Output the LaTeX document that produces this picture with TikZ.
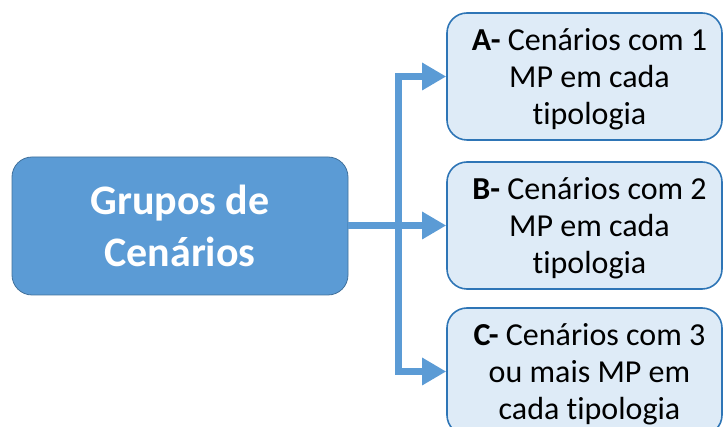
\documentclass[tikz,border=0pt]{standalone}
\usepackage{fontspec}
\setmainfont{Carlito}[Ligatures=NoCommon]
\usetikzlibrary{arrows.meta}
\definecolor{mainfill}{HTML}{5B9BD5}
\definecolor{mainborder}{HTML}{41719C}
\definecolor{subfill}{HTML}{DEEBF7}
\definecolor{subborder}{HTML}{2E75B6}
\tikzset{
  mainbox/.style={draw=mainborder, line width=0.8pt, fill=mainfill, rounded corners=20pt,
    minimum width=336pt, minimum height=138pt, text=white, align=center,
    font=\fontsize{42}{52}\selectfont\bfseries, inner sep=0pt},
  subbox/.style={draw=subborder, line width=1.6pt, fill=subfill, rounded corners=20pt,
    minimum width=275pt, minimum height=127pt, inner sep=0pt},
  subtext/.style={text=black, align=center, inner sep=0pt,
    font=\fontsize{32}{37}\selectfont},
  arr/.style={draw=mainfill, line width=7pt, -{Triangle[length=24pt,width=26pt]}},
}
\begin{document}
\begin{tikzpicture}[x=1pt,y=-1pt]
\useasboundingbox (0,0) rectangle (724,427);
\begin{scope}
\clip (0,0) rectangle (724,427);
\node[mainbox] (main) at (180,226) {Grupos de\\Cenários};
\node[subbox] (A) at (584.5,76.5) {};
\node[subbox] (B) at (584.5,225.5) {};
\node[subbox] (C) at (584.5,371.5) {};
\node[subtext] (At) at ([xshift=5pt,yshift=-3pt]A.center) {\textbf{A-} Cenários com 1\\MP em cada\\tipologia};
\node[subtext] (Bt) at ([xshift=5pt,yshift=-3pt]B.center) {\textbf{B-} Cenários com 2\\MP em cada\\tipologia};
\node[subtext] (Ct) at ([xshift=5pt,yshift=-3pt]C.center) {\textbf{C-} Cenários com 3\\ou mais MP em\\cada tipologia};
\coordinate (sp) at (398,225.5);
\draw[arr] (main.east |- sp) -- (B.west);
\draw[arr] (sp) |- (A.west);
\draw[arr] (sp) |- (C.west);
\end{scope}
\end{tikzpicture}
\end{document}
